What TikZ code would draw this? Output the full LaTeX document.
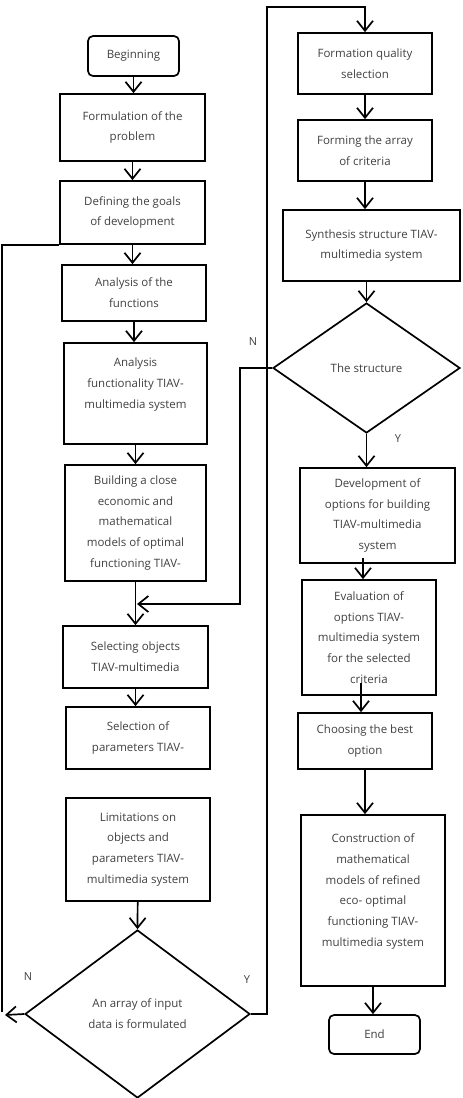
\documentclass[tikz,border=0pt]{standalone}
\usepackage{fontspec}
\setmainfont{Open Sans}
\usetikzlibrary{shapes.geometric,arrows.meta,calc}

\begin{document}
\begin{tikzpicture}[x=1pt,y=-1pt,line width=1.7pt,
        arr/.style={-{Straight Barb[length=10pt,width=16pt,line width=1.7pt]}},
        sz/.style 2 args={minimum width=#1pt,minimum height=#2pt},
        lbl/.style={text=black!75,font=\fontsize{11}{12}\selectfont}]
    \useasboundingbox (0,0) rectangle (463,1098);

    \begin{scope}[every node/.style={draw,align=center,inner sep=0pt,text=black!75,
                    font=\fontsize{11.5}{20.8}\selectfont}]
        % left column
        \node[rounded corners=5pt,sz={91}{40}] (begin) at (133.5,56) {Beginning};
        \node[sz={145}{67}] (formul) at (132.5,127.5) {Formulation of the\\problem};
        \node[sz={145}{63}] (goals) at (132.5,212.5) {Defining the goals\\of development};
        \node[sz={144}{56}] (funcs) at (134,293) {Analysis of the\\functions};
        \node[sz={143}{101}] (funcan) at (135.5,393.5) {Analysis\\functionality TIAV-\\multimedia system\\\mbox{}};
        \node[sz={141}{116}] (build) at (135.5,523) {Building a close\\economic and\\mathematical\\models of optimal\\functioning TIAV-};
        \node[sz={145}{62}] (select) at (135.5,657) {Selecting objects\\TIAV-multimedia};
        \node[sz={144}{62}] (params) at (138,738) {Selection of\\parameters TIAV-};
        \node[sz={144}{103}] (limits) at (138,849.5) {Limitations on\\objects and\\parameters TIAV-\\multimedia system};
        \node[diamond,sz={225}{168}] (input) at (137.5,1014) {An array of input\\data is formulated};

        % right column
        \node[sz={134}{61}] (quality) at (365,63.5) {Formation quality\\selection};
        \node[sz={134}{61}] (criteria) at (365,150.5) {Forming the array\\of criteria};
        \node[sz={177}{71}] (synth) at (371.5,245.5) {Synthesis structure TIAV-\\multimedia system};
        \node[diamond,sz={187}{130}] (struct) at (366.5,368) {The structure};
        \node[sz={155}{95}] (devel) at (377.5,515.5) {Development of\\options for building\\TIAV-multimedia\\system};
        \node[sz={134}{115}] (eval) at (369,637.5) {Evaluation of\\options TIAV-\\multimedia system\\for the selected\\criteria};
        \node[sz={134}{56}] (choose) at (365,741) {Choosing the best\\option};
        \node[sz={144}{171}] (constr) at (373,900.5) {Construction of\\mathematical\\models of refined\\eco- optimal\\functioning TIAV-\\multimedia system\\\mbox{}};
        \node[rounded corners=5pt,sz={91}{39}] (finish) at (374.5,1034.5) {End};
    \end{scope}

    \node[lbl] (n1) at (253,342) {N};
    \node[lbl] (y1) at (398,439) {Y};
    \node[lbl] (n2) at (28,977) {N};
    \node[lbl] (y2) at (247,980) {Y};

    \coordinate (lbot) at (2,1012);
    \coordinate (ltip) at (5,1015);
    \coordinate (rtop) at (267,7);
    \coordinate (nturn) at (240,604);
    \coordinate (njoin) at (137,604);

    \draw[arr] (begin) -- (begin |- formul.north);
    \draw[arr] (formul) -- (formul |- goals.north);
    \draw[arr] (goals) -- (goals |- funcs.north);
    \draw[arr] (funcs) -- (funcs |- funcan.north);
    \draw[arr] (funcan) -- (funcan |- build.north);
    \draw[arr] (build) -- (build |- select.north);
    \draw[arr] (select) -- (select |- params.north);
    \draw[arr] (limits) -- (input.north);

    \draw[arr] (input.east) -| (rtop) -| (quality.north);
    \draw[arr] (input.west) -- (ltip);
    \draw (goals.south west) -| (lbot);

    \draw[arr] (quality) -- (quality |- criteria.north);
    \draw[arr] (criteria) -- (criteria |- synth.north);
    \draw[arr] (synth.south -| struct.north) -- (struct.north);
    \draw[arr] (struct.south) -- (struct.south |- devel.north);
    \draw[arr] (struct.west) -| (nturn) -- (njoin);
    \draw[arr] ($(eval.north |- devel.south)+(-6,-6)$) -- ($(eval.north)+(-6,0)$);
    \draw[arr] ($(choose.north |- eval.south)+(-4,-13)$) -- ($(choose.north)+(-4,0)$);
    \draw[arr] (choose) -- (choose |- constr.north);
    \draw[arr] (constr) -- (constr |- finish.north);
\end{tikzpicture}
\end{document}
